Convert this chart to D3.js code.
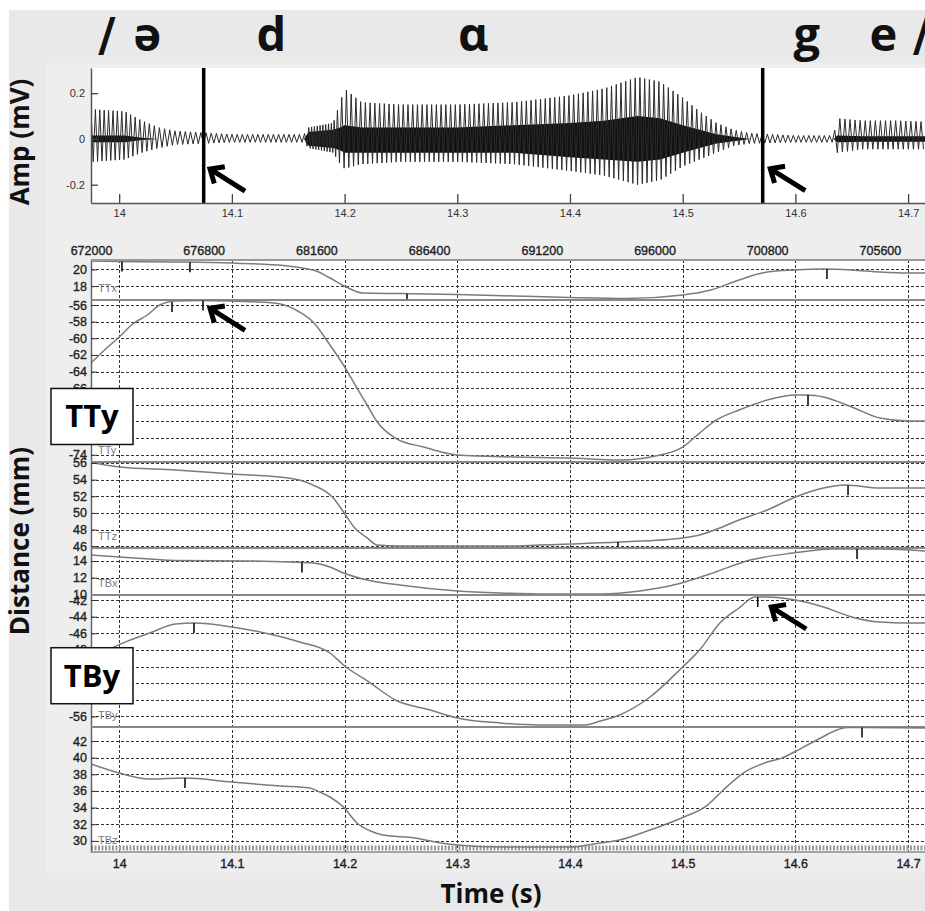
<!DOCTYPE html>
<html>
<head>
<meta charset="utf-8">
<script src="https://cdnjs.cloudflare.com/ajax/libs/d3/7.8.5/d3.min.js"></script>
<style>
  body { margin: 0; background: #fff; }
  svg { display: block; }
</style>
</head>
<body>
<div id="chart"></div>
<script>
// ---- data ----
const viewTime = [13.975, 14.715]
const timeTicks = [14, 14.1, 14.2, 14.3, 14.4, 14.5, 14.6, 14.7]
const sampleTicks = [672000, 676800, 681600, 686400, 691200, 696000, 700800, 705600]
const sampleRate = 48000
const firstSample = 672000

// phonetic segment labels and where they sit in time
const segLabels = ['/', 'ə', 'd', 'ɑ', 'g', 'e', '/']
const segTimes = [13.989, 14.025, 14.135, 14.314, 14.610, 14.678, 14.712]

// acoustic boundaries
const boundaryTimes = [14.075, 14.571]

// audio envelope (mV)
const ampDomain = [-0.28, 0.31]
const ampTicks = [-0.2, 0, 0.2]
const ampTime = [13.975, 14.005, 14.02, 14.035, 14.05, 14.1, 14.164, 14.168, 14.19, 14.196, 14.2, 14.215, 14.25, 14.3, 14.35, 14.4, 14.43, 14.46, 14.48, 14.5, 14.515, 14.53, 14.545, 14.56, 14.6, 14.634, 14.637, 14.66, 14.69, 14.715]
const ampHi = [0.13, 0.12, 0.08, 0.05, 0.035, 0.02, 0.02, 0.05, 0.07, 0.16, 0.22, 0.16, 0.15, 0.15, 0.16, 0.19, 0.22, 0.27, 0.25, 0.18, 0.12, 0.07, 0.04, 0.025, 0.015, 0.015, 0.09, 0.08, 0.08, 0.075]
const ampLo = [-0.1, -0.09, -0.06, -0.04, -0.025, -0.015, -0.015, -0.04, -0.06, -0.11, -0.13, -0.11, -0.1, -0.1, -0.11, -0.14, -0.16, -0.2, -0.18, -0.12, -0.09, -0.06, -0.03, -0.02, -0.015, -0.015, -0.06, -0.045, -0.045, -0.045]
const coreHi = [0.015, 0.015, 0.005, 0, 0, 0, 0, 0.03, 0.04, 0.05, 0.06, 0.05, 0.05, 0.05, 0.06, 0.07, 0.08, 0.1, 0.09, 0.06, 0.04, 0.02, 0.01, 0, 0, 0, 0.015, 0.012, 0.012, 0.012]
const coreLo = [-0.015, -0.015, -0.005, 0, 0, 0, 0, -0.03, -0.04, -0.05, -0.06, -0.06, -0.06, -0.06, -0.06, -0.08, -0.09, -0.1, -0.09, -0.06, -0.04, -0.02, -0.01, 0, 0, 0, -0.015, -0.012, -0.012, -0.012]
const pitchPeriod = [0.0039, 0.0039, 0.0042, 0.0046, 0.0046, 0.0046, 0.0046, 0.0025, 0.0025, 0.0042, 0.0042, 0.0042, 0.0042, 0.0042, 0.0042, 0.0042, 0.0042, 0.0042, 0.0042, 0.0042, 0.0042, 0.0044, 0.0046, 0.0046, 0.0046, 0.0046, 0.0045, 0.0045, 0.0045, 0.0045]

// articulator channels (mm)
const channelNames = ['TTx', 'TTy', 'TTz', 'TBx', 'TBy', 'TBz']
const channelMax = [21.14, -55.4, 56.12, 15.56, -41.4, 43.68]
const channelMin = [16.33, -74.87, 45.78, 9.91, -57.27, 28.66]
const channelTicks = [
  [18, 20],
  [-74, -72, -70, -68, -66, -64, -62, -60, -58, -56],
  [46, 48, 50, 52, 54, 56],
  [10, 12, 14],
  [-56, -54, -52, -50, -48, -46, -44, -42],
  [30, 32, 34, 36, 38, 40, 42]
]

const ttxTime = [13.975, 14.0, 14.05, 14.1, 14.125, 14.15, 14.165, 14.175, 14.187, 14.2, 14.216, 14.25, 14.3, 14.35, 14.4, 14.45, 14.5, 14.525, 14.55, 14.575, 14.6, 14.625, 14.65, 14.675, 14.7, 14.715]
const ttxDist = [21.02, 20.96, 20.9, 20.78, 20.66, 20.42, 20.12, 19.82, 18.98, 18.0, 17.17, 17.11, 17.0, 16.81, 16.63, 16.51, 16.93, 17.53, 18.74, 19.7, 19.94, 20.06, 19.94, 19.7, 19.58, 19.58]

const ttyTime = [13.975, 13.987, 14.0, 14.012, 14.025, 14.036, 14.05, 14.072, 14.1, 14.125, 14.143, 14.16, 14.172, 14.187, 14.199, 14.211, 14.22, 14.229, 14.245, 14.27, 14.3, 14.35, 14.4, 14.444, 14.48, 14.5, 14.515, 14.53, 14.55, 14.575, 14.6, 14.611, 14.625, 14.65, 14.675, 14.7, 14.715]
const ttyDist = [-62.97, -61.4, -59.85, -58.28, -57.2, -56.0, -55.52, -55.46, -55.52, -55.64, -55.88, -56.84, -58.04, -60.8, -63.21, -65.98, -68.02, -70.06, -71.99, -73.07, -74.03, -74.27, -74.39, -74.63, -74.03, -73.07, -71.39, -69.82, -68.62, -67.42, -66.82, -66.82, -67.06, -68.26, -69.58, -69.94, -69.94]

const ttzTime = [13.975, 14.0, 14.05, 14.1, 14.15, 14.16, 14.172, 14.19, 14.199, 14.209, 14.22, 14.229, 14.249, 14.3, 14.347, 14.373, 14.4, 14.444, 14.5, 14.515, 14.533, 14.55, 14.575, 14.6, 14.625, 14.644, 14.675, 14.715]
const ttzDist = [56.06, 55.52, 55.16, 54.68, 54.2, 53.96, 53.36, 51.79, 50.11, 48.19, 46.99, 46.14, 46.02, 46.02, 46.02, 46.14, 46.26, 46.5, 46.99, 47.35, 48.19, 49.15, 50.35, 51.91, 52.99, 53.36, 52.99, 52.99]

const tbxTime = [13.975, 14.0, 14.027, 14.05, 14.116, 14.152, 14.172, 14.187, 14.199, 14.22, 14.249, 14.3, 14.338, 14.382, 14.427, 14.462, 14.499, 14.524, 14.56, 14.598, 14.633, 14.675, 14.715]
const tbxDist = [14.72, 14.48, 14.24, 14.06, 14.0, 13.88, 13.76, 13.28, 12.56, 11.71, 11.11, 10.39, 10.15, 10.03, 10.03, 10.39, 11.35, 12.43, 14.12, 14.96, 15.44, 15.44, 15.2]

const tbyTime = [13.975, 13.992, 14.01, 14.027, 14.05, 14.067, 14.1, 14.125, 14.16, 14.187, 14.199, 14.223, 14.245, 14.276, 14.3, 14.338, 14.373, 14.412, 14.427, 14.444, 14.471, 14.5, 14.515, 14.533, 14.55, 14.564, 14.575, 14.6, 14.625, 14.65, 14.675, 14.7, 14.715]
const tbyDist = [-49.45, -47.89, -46.81, -45.97, -44.89, -44.77, -45.25, -45.85, -47.05, -48.37, -49.81, -51.98, -54.02, -55.22, -56.18, -56.78, -57.03, -57.03, -56.54, -55.82, -53.66, -50.05, -48.01, -44.77, -42.96, -41.64, -41.64, -42.0, -42.84, -44.04, -44.65, -44.77, -44.77]

const tbzTime = [13.975, 14.0, 14.027, 14.058, 14.1, 14.143, 14.169, 14.178, 14.187, 14.199, 14.211, 14.223, 14.234, 14.263, 14.285, 14.3, 14.338, 14.4, 14.427, 14.444, 14.471, 14.499, 14.522, 14.536, 14.555, 14.575, 14.588, 14.599, 14.619, 14.646, 14.66, 14.715]
const tbzDist = [39.23, 38.15, 37.43, 37.55, 37.07, 36.59, 36.35, 35.87, 35.27, 34.06, 32.14, 31.18, 30.7, 30.34, 29.74, 29.5, 29.26, 29.26, 29.74, 30.1, 31.3, 32.74, 34.3, 36.11, 38.27, 39.47, 39.95, 40.68, 42.12, 43.62, 43.62, 43.56]

// gesture landmarks marked on each channel
const channelMarks = [
  [14.0025, 14.0628, 14.2554, 14.628],
  [14.0469, 14.0744, 14.6112],
  [14.4426, 14.6467],
  [14.1622, 14.6547],
  [14.0664, 14.5666],
  [14.0584, 14.6591]
]

// boxed call-outs and arrows
const calloutNames = ['TTy', 'TBy']
const calloutValues = [-69.4, -51.1]
const arrowPanels = ['amp', 'amp', 'TTy', 'TBy']
const arrowTimes = [14.0806, 14.5777, 14.0806, 14.5786]
const arrowValues = [-0.132, -0.13, -56.4, -42.84]

// ---- drawing ----
const W = 925
const H = 911
const plotL = 91
const plotR = 925
const ampTop = 68
const ampBottom = 203
const distTop = 260
const distBottom = 852
const tickFont = '"Liberation Sans", Arial, sans-serif'
const labelFont = '"Open Sans", "Noto Sans", "DejaVu Sans", sans-serif'

const svg = d3.select('#chart')
  .append('svg')
  .attr('width', W)
  .attr('height', H)
  .style('font-family', tickFont)

// grey figure background
svg.append('rect').attr('x', 9).attr('y', 10).attr('width', W - 9).attr('height', H - 10).attr('fill', '#e9e9e9')
svg.append('rect').attr('x', 45).attr('y', 63).attr('width', W - 45).attr('height', 810).attr('fill', '#eeeeee')

const x = d3.scaleLinear().domain(viewTime).range([plotL, plotR])
const num = d => String(d)
const crisp = v => Math.round(v) + 0.5
// slightly heavier tick text, as in the scanned figure
const heavy = sel => sel.attr('stroke', '#222').attr('stroke-width', 0.35)

// phonetic transcription
svg.append('g')
  .selectAll('text')
  .data(segLabels)
  .join('text')
  .attr('x', (d, i) => x(segTimes[i]))
  .attr('y', 51)
  .attr('text-anchor', 'middle')
  .style('font-weight', 'bold')
  .style('font-size', '47px')
  .style('font-family', d => d === '/' ? '"DejaVu Sans", sans-serif' : labelFont)
  .attr('fill', '#111')
  .text(d => d)

// ---- waveform panel ----
const ampY = d3.scaleLinear().domain(ampDomain).range([ampBottom, ampTop])
svg.append('rect')
  .attr('x', plotL).attr('y', ampTop)
  .attr('width', plotR - plotL).attr('height', ampBottom - ampTop)
  .attr('fill', '#fff')

svg.append('clipPath').attr('id', 'clip-amp')
  .append('rect')
  .attr('x', plotL).attr('y', ampTop)
  .attr('width', plotR - plotL).attr('height', ampBottom - ampTop)

const hiAt = d3.scaleLinear().domain(ampTime).range(ampHi).clamp(true)
const loAt = d3.scaleLinear().domain(ampTime).range(ampLo).clamp(true)
const periodAt = d3.scaleLinear().domain(ampTime).range(pitchPeriod).clamp(true)

// one peak and one trough per pitch period, following the measured envelope
const wavePts = []
let tt = ampTime[0]
let k = 0
while (tt <= ampTime[ampTime.length - 1]) {
  wavePts.push([tt, k % 2 ? loAt(tt) : hiAt(tt)])
  tt += periodAt(tt) / 2
  k++
}

const wave = svg.append('g').attr('clip-path', 'url(#clip-amp)')
wave.append('path')
  .datum(ampTime)
  .attr('d', d3.area()
    .x(d => x(d))
    .y0((d, i) => ampY(coreLo[i]))
    .y1((d, i) => ampY(coreHi[i])))
  .attr('fill', '#111')
wave.append('path')
  .datum(wavePts)
  .attr('d', d3.line().x(d => x(d[0])).y(d => ampY(d[1])))
  .attr('fill', 'none')
  .attr('stroke', '#2b2b2b')
  .attr('stroke-width', 1)

wave.selectAll('line.boundary')
  .data(boundaryTimes)
  .join('line')
  .attr('class', 'boundary')
  .attr('x1', d => x(d)).attr('x2', d => x(d))
  .attr('y1', ampTop).attr('y2', ampBottom)
  .attr('stroke', '#000')
  .attr('stroke-width', 3.5)

const ampAxis = svg.append('g')
  .attr('transform', `translate(${plotL},0)`)
  .call(d3.axisLeft(ampY).tickValues(ampTicks).tickSize(-7).tickSizeOuter(0).tickPadding(6).tickFormat(num))
const ampTimeAxis = svg.append('g')
  .attr('transform', `translate(0,${ampBottom})`)
  .call(d3.axisBottom(x).tickValues(timeTicks).tickSize(-9).tickSizeOuter(0).tickPadding(6).tickFormat(num))
;[ampAxis, ampTimeAxis].forEach(a => {
  a.select('.domain').attr('stroke', '#555').attr('stroke-width', 1.5)
  a.selectAll('.tick line').attr('stroke', '#444').attr('stroke-width', 1.3)
  a.selectAll('.tick text').attr('fill', '#333').style('font-size', '11px')
})

svg.append('text')
  .attr('transform', `translate(29,142) rotate(-90)`)
  .attr('text-anchor', 'middle')
  .style('font', `bold 26px ${labelFont}`)
  .attr('fill', '#111')
  .text('Amp (mV)')

// ---- articulator panels ----
svg.append('rect')
  .attr('x', plotL).attr('y', distTop)
  .attr('width', plotR - plotL).attr('height', distBottom - distTop)
  .attr('fill', '#fff')

const totalMm = d3.sum(channelNames, (d, i) => channelMax[i] - channelMin[i])
const pxPerMm = (distBottom - distTop) / totalMm
const series = [[ttxTime, ttxDist], [ttyTime, ttyDist], [ttzTime, ttzDist], [tbxTime, tbxDist], [tbyTime, tbyDist], [tbzTime, tbzDist]]

let yCursor = distTop
const channels = channelNames.map((name, i) => {
  const h = (channelMax[i] - channelMin[i]) * pxPerMm
  const c = {
    name,
    top: yCursor,
    bottom: yCursor + h,
    y: d3.scaleLinear().domain([channelMin[i], channelMax[i]]).range([yCursor + h, yCursor]),
    time: series[i][0],
    dist: series[i][1],
    ticks: channelTicks[i],
    marks: channelMarks[i]
  }
  yCursor += h
  return c
})

const grid = svg.append('g')
const gridStyle = sel => sel
  .attr('stroke', '#333')
  .attr('stroke-width', 1)
  .attr('stroke-dasharray', '3,2')

// horizontal grid lines at every tick of every channel
channels.forEach(c => {
  grid.append('g')
    .selectAll('line')
    .data(c.ticks)
    .join('line')
    .attr('x1', plotL).attr('x2', plotR)
    .attr('y1', d => crisp(c.y(d))).attr('y2', d => crisp(c.y(d)))
    .call(gridStyle)
})
// vertical grid lines at the time ticks
grid.append('g')
  .selectAll('line')
  .data(timeTicks)
  .join('line')
  .attr('x1', d => crisp(x(d))).attr('x2', d => crisp(x(d)))
  .attr('y1', distTop).attr('y2', distBottom)
  .call(gridStyle)

// hatched strip along the bottom edge
svg.append('line')
  .attr('x1', plotL).attr('x2', plotR)
  .attr('y1', distBottom - 4).attr('y2', distBottom - 4)
  .attr('stroke', '#9a9a9a').attr('stroke-width', 5).attr('stroke-dasharray', '2,1.5')

channels.forEach((c, i) => {
  const clipId = `clip-${c.name}`
  svg.append('clipPath').attr('id', clipId)
    .append('rect')
    .attr('x', plotL).attr('y', c.top)
    .attr('width', plotR - plotL).attr('height', c.bottom - c.top)

  const g = svg.append('g').attr('clip-path', `url(#${clipId})`)
  g.append('path')
    .datum(c.time)
    .attr('d', d3.line()
      .x(d => x(d))
      .y((d, j) => c.y(c.dist[j]))
      .curve(d3.curveMonotoneX))
    .attr('fill', 'none')
    .attr('stroke', '#7b7b7b')
    .attr('stroke-width', 1.5)

  const at = d3.scaleLinear().domain(c.time).range(c.dist)
  g.selectAll('line.mark')
    .data(c.marks)
    .join('line')
    .attr('class', 'mark')
    .attr('x1', d => x(d)).attr('x2', d => x(d))
    .attr('y1', d => c.y(at(d)))
    .attr('y2', d => c.y(at(d)) + 10)
    .attr('stroke', '#111')
    .attr('stroke-width', 1.6)

  const axis = svg.append('g')
    .attr('transform', `translate(${plotL},0)`)
    .call(d3.axisLeft(c.y).tickValues(c.ticks).tickSize(-6).tickSizeOuter(0).tickPadding(4).tickFormat(num))
  axis.select('.domain').attr('stroke', '#666').attr('stroke-width', 1.5)
  axis.selectAll('.tick line').attr('stroke', '#333')
  axis.selectAll('.tick text').attr('fill', '#222').style('font-size', '12.5px').call(heavy)

  svg.append('text')
    .attr('x', plotL + 7)
    .attr('y', c.bottom - 8)
    .attr('fill', '#7a7a7a')
    .style('font-size', '11px')
    .text(c.name)

  // separator below each channel
  svg.append('line')
    .attr('x1', plotL).attr('x2', plotR)
    .attr('y1', c.bottom).attr('y2', c.bottom)
    .attr('stroke', '#888')
    .attr('stroke-width', i === channels.length - 1 ? 1.5 : 2)
})

svg.append('line')
  .attr('x1', plotL).attr('x2', plotR)
  .attr('y1', distTop).attr('y2', distTop)
  .attr('stroke', '#999').attr('stroke-width', 2)

// sample-number axis on top, time axis below
const sampleX = d3.scaleLinear()
  .domain([firstSample, firstSample + (viewTime[1] - viewTime[0]) * sampleRate])
  .range([plotL, plotR])
const sampleAxis = svg.append('g')
  .attr('transform', `translate(0,${distTop})`)
  .call(d3.axisTop(sampleX).tickValues(sampleTicks).tickSize(0).tickPadding(5).tickFormat(num))
sampleAxis.select('.domain').remove()
sampleAxis.selectAll('.tick text').attr('fill', '#222').style('font-size', '12.5px').call(heavy)

const timeAxis = svg.append('g')
  .attr('transform', `translate(0,${distBottom})`)
  .call(d3.axisBottom(x).tickValues(timeTicks).tickSize(0).tickPadding(7).tickFormat(num))
timeAxis.select('.domain').remove()
timeAxis.selectAll('.tick text').attr('fill', '#222').style('font-size', '12.5px').call(heavy)

// boxed call-outs
const byName = Object.fromEntries(channels.map(c => [c.name, c]))
calloutNames.forEach((name, i) => {
  const cy = byName[name].y(calloutValues[i])
  svg.append('rect')
    .attr('x', 51).attr('y', cy - 28)
    .attr('width', 82).attr('height', 56)
    .attr('fill', '#fff')
    .attr('stroke', '#111')
    .attr('stroke-width', 1.5)
  svg.append('text')
    .attr('x', 92).attr('y', cy + 11)
    .attr('text-anchor', 'middle')
    .style('font', `bold 31px ${labelFont}`)
    .attr('fill', '#000')
    .text(name)
})

// arrows pointing up-left at the landmarks
const arrowLayer = svg.append('g')
arrowPanels.forEach((p, i) => {
  const hx = x(arrowTimes[i])
  const hy = p === 'amp' ? ampY(arrowValues[i]) : byName[p].y(arrowValues[i])
  const dx = 35
  const dy = 22
  const len = Math.hypot(dx, dy)
  const ux = dx / len
  const uy = dy / len
  const arm = 15
  const rot = a => [ux * Math.cos(a) - uy * Math.sin(a), ux * Math.sin(a) + uy * Math.cos(a)]
  const [ax, ay] = rot(0.72)
  const [bx, by] = rot(-0.72)
  arrowLayer.append('path')
    .attr('d', `M${hx + dx},${hy + dy}L${hx + 3 * ux},${hy + 3 * uy}` +
      `M${hx + arm * ax},${hy + arm * ay}L${hx},${hy}L${hx + arm * bx},${hy + arm * by}`)
    .attr('fill', 'none')
    .attr('stroke', '#000')
    .attr('stroke-width', 5)
    .attr('stroke-linejoin', 'miter')
})

svg.append('text')
  .attr('transform', `translate(29,541) rotate(-90)`)
  .attr('text-anchor', 'middle')
  .style('font', `bold 26px ${labelFont}`)
  .attr('fill', '#111')
  .text('Distance (mm)')

svg.append('text')
  .attr('x', 491).attr('y', 903)
  .attr('text-anchor', 'middle')
  .style('font', `bold 26px ${labelFont}`)
  .attr('fill', '#111')
  .text('Time (s)')
</script>
</body>
</html>
